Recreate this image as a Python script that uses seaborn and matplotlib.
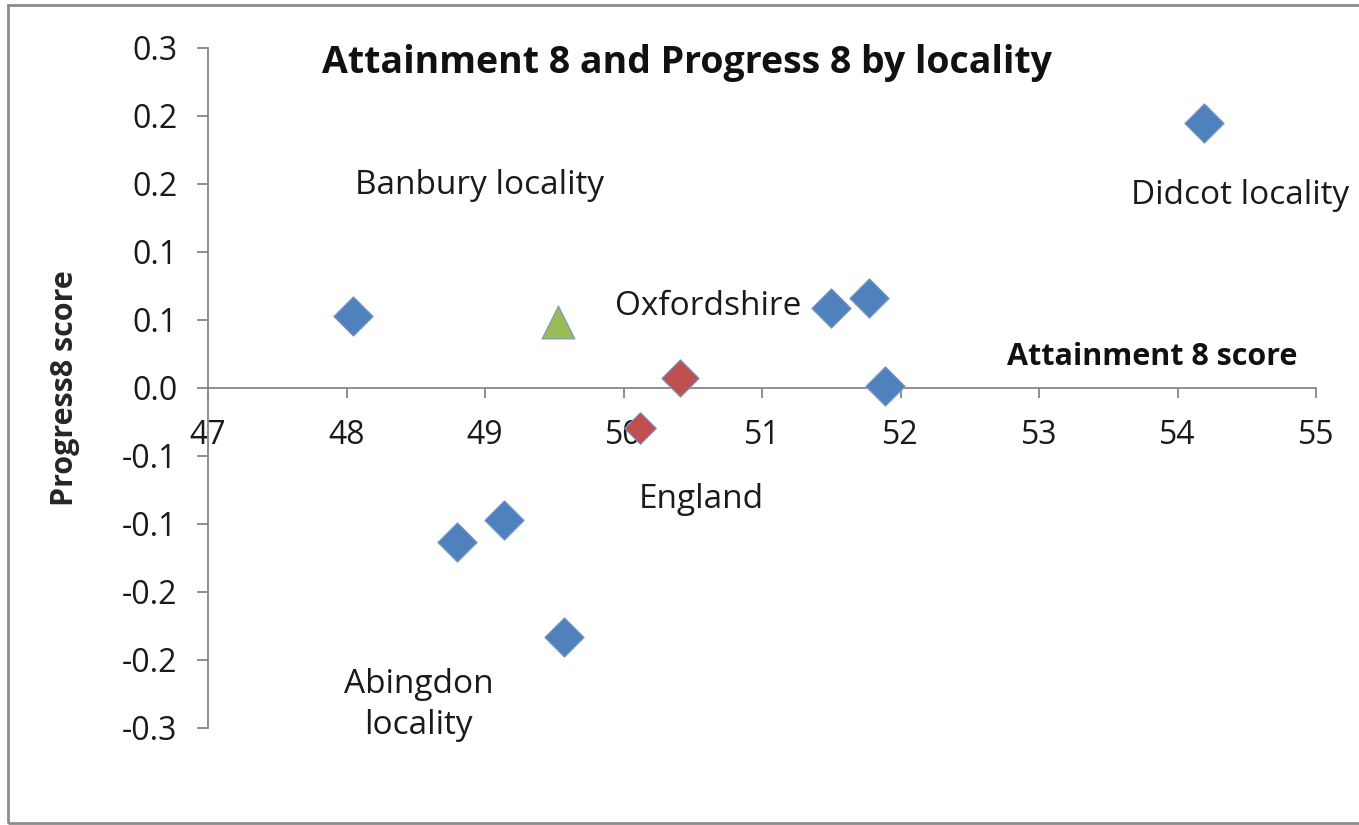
import pandas as pd
import matplotlib.pyplot as plt
import seaborn as sns
from matplotlib.patches import Rectangle

# Attainment 8 (x) and Progress 8 (y) scores
locality_attainment = [48.05, 51.50, 51.77, 51.89, 54.19, 49.14, 48.80, 49.57]
locality_progress = [0.053, 0.059, 0.066, 0.0015, 0.195, -0.097, -0.113, -0.183]
oxfordshire_attainment = [50.41]
oxfordshire_progress = [0.0073]
england_attainment = [50.12]
england_progress = [-0.0293]
other_attainment = [49.53]
other_progress = [0.0484]

y_ticks = [-0.25, -0.2, -0.15, -0.1, -0.05, 0.0, 0.05, 0.1, 0.15, 0.2, 0.25]
y_tick_labels = ['-0.3', '-0.2', '-0.2', '-0.1', '-0.1', '0.0', '0.1', '0.1', '0.2', '0.2', '0.3']
x_ticks = [47, 48, 49, 50, 51, 52, 53, 54, 55]

sns.set_style('white')
plt.rcParams['font.family'] = ['Open Sans', 'DejaVu Sans']

fig = plt.figure(figsize=(13.59, 8.25), dpi=100)
ax = fig.add_axes([208 / 1359, 97 / 825, 1108 / 1359, 680 / 825])

edge = '#7596cc'
sns.scatterplot(x=locality_attainment, y=locality_progress, marker='D', s=400,
                color='#4f81bd', edgecolor=edge, linewidth=0.8, ax=ax, zorder=3)
sns.scatterplot(x=oxfordshire_attainment, y=oxfordshire_progress, marker='D', s=360,
                color='#c0504d', edgecolor=edge, linewidth=0.8, ax=ax, zorder=3)
sns.scatterplot(x=england_attainment, y=england_progress, marker='D', s=260,
                color='#c0504d', edgecolor=edge, linewidth=0.8, ax=ax, zorder=3)
sns.scatterplot(x=other_attainment, y=other_progress, marker='^', s=560,
                color='#9bbb59', edgecolor=edge, linewidth=0.8, ax=ax, zorder=3)

ax.set_xlim(47, 55)
ax.set_ylim(-0.25, 0.25)
ax.set_xticks(x_ticks)
ax.set_yticks(y_ticks)
ax.set_yticklabels(y_tick_labels)

axis_grey = '#868686'
for side in ['top', 'right']:
    ax.spines[side].set_visible(False)
ax.spines['left'].set_color(axis_grey)
ax.spines['bottom'].set_color(axis_grey)
ax.spines['left'].set_linewidth(1.3)
ax.spines['bottom'].set_linewidth(1.3)
ax.spines['bottom'].set_position(('data', 0))
ax.tick_params(axis='x', direction='out', length=7, width=1.3, color=axis_grey,
               pad=15, labelsize=23, labelcolor='#1a1a1a', bottom=True)
ax.tick_params(axis='y', direction='out', length=8, width=1.3, color=axis_grey,
               pad=14, labelsize=23, labelcolor='#1a1a1a', left=True)

ax.set_xlabel('')
ax.set_ylabel('Progress8 score', fontsize=22, fontweight='bold')
ax.yaxis.set_label_coords(-0.1155, 0.5)

ax.text(0.103, 0.978, 'Attainment 8 and Progress 8 by locality', transform=ax.transAxes,
        fontsize=27, fontweight='bold', ha='left', va='center', color='#111111')
ax.text(53.82, 0.0227, 'Attainment 8 score', fontsize=22, fontweight='bold',
        ha='center', va='center', color='#111111')

label_kw = dict(fontsize=24, ha='center', va='center', color='#1a1a1a')
ax.text(48.96, 0.1488, 'Banbury locality', **label_kw)
ax.text(54.45, 0.1415, 'Didcot locality', **label_kw)
ax.text(50.61, 0.0601, 'Oxfordshire', **label_kw)
ax.text(50.56, -0.0821, 'England', **label_kw)
ax.text(48.52, -0.2331, 'Abingdon\nlocality', linespacing=1.35, **label_kw)

# chart area border
fig.patches.append(Rectangle((8 / 1359, 2 / 825), 1.05, 818 / 825, transform=fig.transFigure,
                             fill=False, edgecolor='#8c8c8c', linewidth=2))

fig.savefig('out.png', dpi=100)
